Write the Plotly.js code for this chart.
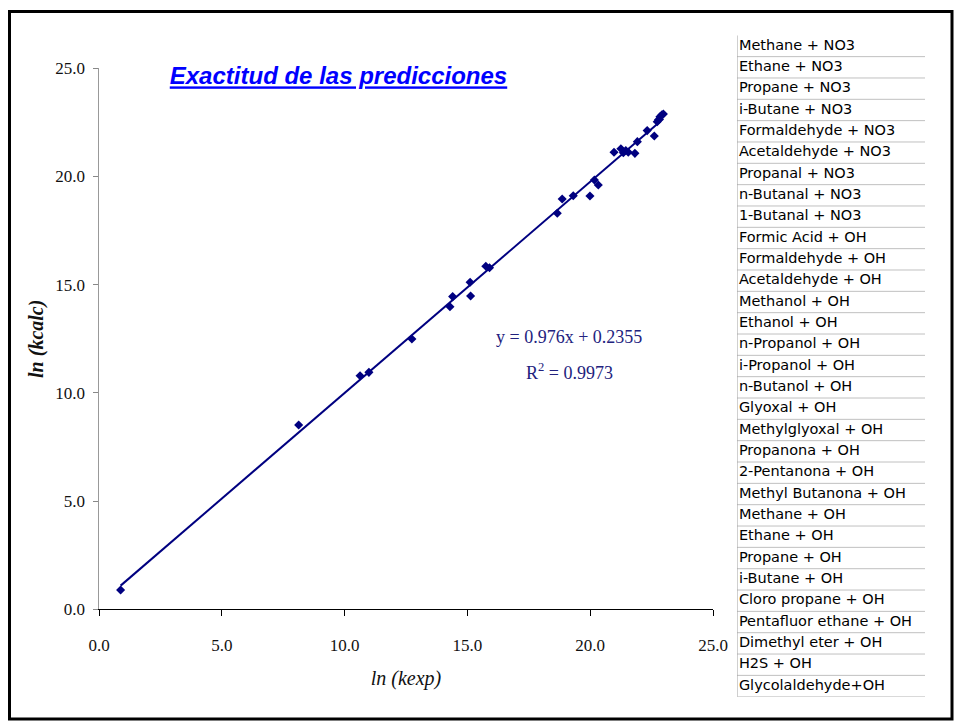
<!DOCTYPE html>
<html>
<head>
<meta charset="utf-8">
<script src="https://cdn.plot.ly/plotly-3.0.1.min.js"></script>
<style>
  html, body { margin: 0; padding: 0; background: #ffffff; }
  #chart { width: 954px; height: 721px; }
</style>
</head>
<body>
<div id="chart"></div>
<script>
// Reactions listed beside the chart
const compounds = [
  'Methane + NO3', 'Ethane + NO3', 'Propane + NO3', 'i-Butane + NO3',
  'Formaldehyde + NO3', 'Acetaldehyde + NO3', 'Propanal + NO3', 'n-Butanal + NO3',
  '1-Butanal + NO3', 'Formic Acid + OH', 'Formaldehyde + OH', 'Acetaldehyde + OH',
  'Methanol + OH', 'Ethanol + OH', 'n-Propanol + OH', 'i-Propanol + OH',
  'n-Butanol + OH', 'Glyoxal + OH', 'Methylglyoxal + OH', 'Propanona + OH',
  '2-Pentanona + OH', 'Methyl Butanona + OH', 'Methane + OH', 'Ethane + OH',
  'Propane + OH', 'i-Butane + OH', 'Cloro propane + OH', 'Pentafluor ethane + OH',
  'Dimethyl eter + OH', 'H2S + OH', 'Glycolaldehyde+OH'
];

// ln of experimental rate constants
const lnKexp = [
  0.88, 8.13, 10.63, 10.99, 12.74, 14.29, 14.40, 15.11, 15.13, 15.75, 15.90,
  18.66, 18.86, 19.31, 19.99, 20.17, 20.33, 20.97, 21.25, 21.35, 21.45, 21.55,
  21.82, 21.92, 22.32, 22.61, 22.73, 22.78, 22.84, 22.92, 22.98
];

// ln of calculated rate constants
const lnKcalc = [
  0.89, 8.52, 10.79, 10.95, 12.49, 13.98, 14.45, 15.11, 14.48, 15.85, 15.78,
  18.30, 18.96, 19.11, 19.10, 19.84, 19.61, 21.12, 21.28, 21.10, 21.20, 21.12,
  21.07, 21.61, 22.12, 21.87, 22.53, 22.62, 22.76, 22.85, 22.89
];

// Linear trendline coefficients
const slope = 0.976;
const intercept = 0.2355;
const rSquared = 0.9973;

const axisTicks = [0, 5, 10, 15, 20, 25];

const W = 954, H = 721;
const px = v => v / W;          // pixel -> paper x
const py = v => 1 - v / H;      // pixel -> paper y

const xMin = Math.min(...lnKexp);
const xMax = Math.max(...lnKexp);
const trendX = [xMin, xMax];
const trendY = trendX.map(x => slope * x + intercept);

const navy = '#000080';
const serif = '"Liberation Serif", "Times New Roman", serif';

const rowIdx = compounds.map((_, i) => i);

const traces = [
  {
    type: 'scatter', mode: 'lines',
    x: trendX, y: trendY,
    line: { color: navy, width: 2 },
    hoverinfo: 'skip', showlegend: false
  },
  {
    type: 'scatter', mode: 'markers',
    x: lnKexp, y: lnKcalc,
    marker: { symbol: 'diamond', size: 7, color: navy },
    showlegend: false
  },
  {
    type: 'scatter', mode: 'text',
    x: rowIdx.map(() => 0.01), y: rowIdx,
    text: compounds,
    textposition: 'middle right',
    textfont: { family: '"DejaVu Sans", sans-serif', size: 14.5, color: '#000000' },
    xaxis: 'x2', yaxis: 'y2',
    hoverinfo: 'skip', showlegend: false, cliponaxis: false
  }
];

// Table row separators and left border
const tableShapes = rowIdx.map(i => ({
  type: 'line', xref: 'x2', yref: 'y2',
  x0: 0, x1: 1, y0: i + 0.5, y1: i + 0.5,
  line: { color: '#c0c0c0', width: 1 }
}));
tableShapes.push({
  type: 'line', xref: 'x2', yref: 'y2',
  x0: 0, x1: 0, y0: -0.5, y1: compounds.length - 0.5,
  line: { color: '#a0a0a0', width: 1 }
});

const layout = {
  width: W, height: H,
  margin: { l: 0, r: 0, t: 0, b: 0 },
  paper_bgcolor: '#ffffff',
  plot_bgcolor: '#ffffff',
  showlegend: false,
  title: {
    text: '<b><i><u>Exactitud de las predicciones</u></i></b>',
    font: { family: '"Liberation Sans", Arial, sans-serif', size: 24, color: '#0000ff' },
    x: px(338.5), xanchor: 'center',
    y: py(76), yanchor: 'middle'
  },
  xaxis: {
    domain: [px(99), px(713)],
    range: [0, 25],
    tickvals: axisTicks,
    tickformat: '.1f',
    ticks: 'outside', ticklen: 6, tickcolor: '#000000', tickwidth: 1,
    ticklabelstandoff: 14,
    showline: true, linecolor: '#000000', linewidth: 1,
    showgrid: false, zeroline: false,
    tickfont: { family: serif, size: 17, color: '#111111' },
    title: {
      text: '<i>ln (kexp)</i>',
      font: { family: serif, size: 20, color: '#111111' },
      standoff: 17
    },
    anchor: 'y'
  },
  yaxis: {
    domain: [py(609.3), py(68.3)],
    range: [0, 25],
    tickvals: axisTicks,
    tickformat: '.1f',
    ticks: 'outside', ticklen: 5, tickcolor: '#888888', tickwidth: 1,
    ticklabelstandoff: 4,
    showline: true, linecolor: '#999999', linewidth: 1.5,
    showgrid: false, zeroline: false,
    tickfont: { family: serif, size: 17, color: '#111111' },
    title: {
      text: '<b><i>ln (kcalc)</i></b>',
      font: { family: serif, size: 20, color: '#111111' },
      standoff: 6
    },
    anchor: 'x'
  },
  xaxis2: {
    domain: [px(737), px(925)],
    range: [0, 1],
    visible: false, fixedrange: true,
    anchor: 'y2'
  },
  yaxis2: {
    domain: [py(696.7), py(35.3)],
    range: [compounds.length - 0.5, -0.5],
    visible: false, fixedrange: true,
    anchor: 'x2'
  },
  annotations: [
    {
      xref: 'paper', yref: 'paper',
      x: px(569), y: py(337), xanchor: 'center', yanchor: 'middle',
      text: 'y = ' + slope + 'x + ' + intercept,
      showarrow: false,
      font: { family: serif, size: 18, color: '#22227e' }
    },
    {
      xref: 'paper', yref: 'paper',
      x: px(569), y: py(371), xanchor: 'center', yanchor: 'middle',
      text: 'R<sup>2</sup> = ' + rSquared,
      showarrow: false,
      font: { family: serif, size: 18, color: '#22227e' }
    }
  ],
  shapes: [
    {
      type: 'rect', xref: 'paper', yref: 'paper',
      x0: px(9.5), x1: px(952), y0: py(719), y1: py(11.5),
      line: { color: '#000000', width: 3 }, fillcolor: 'rgba(0,0,0,0)'
    }
  ].concat(tableShapes)
};

Plotly.newPlot('chart', traces, layout, { staticPlot: true, displayModeBar: false });
</script>
</body>
</html>
